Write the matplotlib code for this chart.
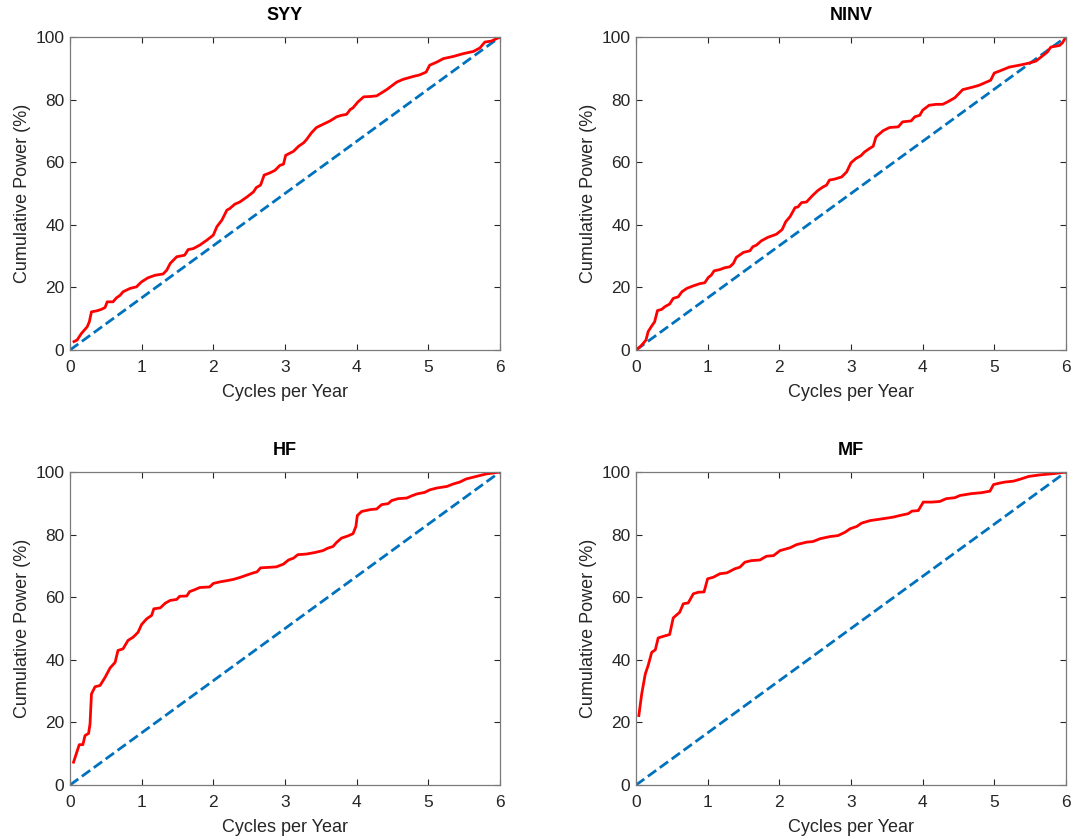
import matplotlib.pyplot as plt
import numpy as np

plt.rcParams['font.family'] = ['Liberation Sans', 'DejaVu Sans']

# SYY
syy_x = [0.056, 0.10, 0.16, 0.24, 0.27, 0.30, 0.37, 0.44, 0.49, 0.52, 0.60, 0.65, 0.70, 0.74, 0.84,
         0.93, 0.95, 1.00, 1.09, 1.19, 1.30, 1.35, 1.40, 1.49, 1.60, 1.65, 1.72, 1.81, 1.91, 2.00,
         2.05, 2.12, 2.19, 2.23, 2.30, 2.37, 2.47, 2.56, 2.60, 2.66, 2.71, 2.79, 2.86, 2.93, 2.98,
         3.01, 3.12, 3.19, 3.26, 3.30, 3.37, 3.44, 3.53, 3.63, 3.72, 3.79, 3.86, 3.91, 3.95, 4.02,
         4.10, 4.19, 4.28, 4.42, 4.56, 4.65, 4.79, 4.88, 4.97, 5.02, 5.12, 5.21, 5.35, 5.49, 5.63,
         5.72, 5.79, 5.88, 6.00]
syy_y = [2.7, 3.2, 5.3, 7.4, 9.0, 12.2, 12.5, 13.0, 13.6, 15.4, 15.4, 16.7, 17.5, 18.6, 19.7,
         20.2, 20.7, 21.8, 23.1, 23.9, 24.3, 25.5, 27.7, 29.8, 30.3, 32.1, 32.4, 33.5, 35.1, 36.7,
         39.4, 41.5, 44.7, 45.2, 46.6, 47.3, 48.9, 50.5, 51.9, 52.7, 55.9, 56.6, 57.4, 59.0, 59.4,
         62.2, 63.5, 65.1, 66.2, 67.2, 69.4, 71.1, 72.1, 73.2, 74.5, 75.0, 75.3, 76.8, 77.4, 79.3,
         80.9, 81.0, 81.2, 83.2, 85.6, 86.5, 87.4, 87.9, 88.8, 91.0, 92.0, 93.1, 93.8, 94.7, 95.4,
         96.5, 98.4, 98.7, 100.0]

# NINV
ninv_x = [0.01, 0.06, 0.10, 0.14, 0.17, 0.22, 0.26, 0.30, 0.36, 0.40, 0.47, 0.52, 0.59, 0.64, 0.71,
          0.80, 0.89, 0.96, 1.01, 1.05, 1.09, 1.17, 1.24, 1.31, 1.36, 1.40, 1.50, 1.59, 1.63, 1.68,
          1.75, 1.84, 1.96, 2.04, 2.09, 2.15, 2.22, 2.26, 2.31, 2.38, 2.47, 2.54, 2.61, 2.66, 2.70,
          2.77, 2.87, 2.94, 3.00, 3.07, 3.14, 3.19, 3.26, 3.31, 3.35, 3.45, 3.54, 3.66, 3.72, 3.84,
          3.89, 3.96, 4.00, 4.09, 4.19, 4.28, 4.35, 4.45, 4.56, 4.70, 4.79, 4.95, 5.00, 5.07, 5.21,
          5.35, 5.49, 5.58, 5.68, 5.74, 5.79, 5.91, 5.95, 6.00]
ninv_y = [0.2, 1.1, 2.1, 3.2, 5.9, 7.7, 9.0, 12.6, 13.0, 13.8, 14.7, 16.5, 17.0, 18.6, 19.7,
          20.5, 21.2, 21.5, 23.2, 23.9, 25.3, 25.7, 26.3, 26.6, 27.7, 29.6, 31.2, 31.7, 33.0, 33.5,
          34.9, 36.0, 37.0, 38.5, 41.0, 42.6, 45.5, 45.7, 47.1, 47.3, 49.5, 51.0, 52.1, 52.7, 54.3,
          54.6, 55.3, 56.9, 59.8, 61.2, 62.1, 63.3, 64.4, 65.1, 68.1, 70.1, 71.1, 71.3, 72.9, 73.2,
          74.5, 75.0, 76.6, 78.2, 78.5, 78.5, 79.3, 80.6, 83.2, 84.0, 84.6, 86.2, 88.5, 89.1, 90.4,
          91.0, 91.7, 92.3, 94.1, 95.2, 96.8, 97.3, 98.1, 100.0]

# HF
hf_x = [0.05, 0.08, 0.13, 0.18, 0.21, 0.26, 0.28, 0.30, 0.35, 0.42, 0.49, 0.56, 0.63, 0.67, 0.74,
        0.81, 0.88, 0.95, 1.00, 1.07, 1.14, 1.17, 1.26, 1.33, 1.40, 1.49, 1.53, 1.63, 1.67, 1.74,
        1.81, 1.95, 2.00, 2.09, 2.19, 2.28, 2.37, 2.47, 2.56, 2.61, 2.66, 2.74, 2.88, 2.98, 3.05,
        3.12, 3.18, 3.30, 3.42, 3.53, 3.60, 3.67, 3.72, 3.79, 3.88, 3.95, 3.99, 4.01, 4.07, 4.19,
        4.28, 4.35, 4.44, 4.49, 4.58, 4.70, 4.77, 4.84, 4.95, 5.02, 5.12, 5.26, 5.35, 5.44, 5.53,
        5.67, 5.81, 6.00]
hf_y = [7.3, 9.4, 12.9, 12.9, 15.8, 16.5, 19.5, 29.1, 31.4, 31.8, 34.4, 37.4, 39.2, 43.0, 43.5,
        46.2, 47.2, 48.8, 51.3, 53.1, 54.2, 56.3, 56.6, 58.1, 59.0, 59.3, 60.3, 60.4, 61.8, 62.4,
        63.1, 63.3, 64.4, 64.9, 65.3, 65.7, 66.3, 67.1, 67.8, 68.1, 69.4, 69.5, 69.7, 70.6, 71.9,
        72.5, 73.6, 73.8, 74.3, 74.9, 75.7, 76.2, 77.5, 78.9, 79.6, 80.3, 82.6, 86.1, 87.4, 88.0,
        88.2, 89.6, 89.9, 90.9, 91.5, 91.7, 92.4, 93.0, 93.5, 94.3, 94.9, 95.4, 96.2, 96.8, 97.8,
        98.6, 99.4, 100.0]

# MF
mf_x = [0.04, 0.08, 0.13, 0.17, 0.22, 0.27, 0.31, 0.38, 0.47, 0.52, 0.61, 0.66, 0.73, 0.80, 0.87,
        0.95, 1.00, 1.08, 1.17, 1.27, 1.38, 1.45, 1.52, 1.61, 1.73, 1.82, 1.92, 2.01, 2.15, 2.24,
        2.38, 2.47, 2.57, 2.71, 2.82, 2.92, 2.99, 3.08, 3.15, 3.27, 3.45, 3.59, 3.68, 3.80, 3.85,
        3.94, 4.01, 4.13, 4.24, 4.33, 4.45, 4.52, 4.68, 4.82, 4.94, 4.99, 5.08, 5.15, 5.27, 5.36,
        5.48, 5.64, 5.83, 6.00]
mf_y = [22.2, 29.1, 35.5, 38.2, 42.4, 43.2, 47.0, 47.5, 48.1, 53.4, 55.2, 57.9, 58.2, 61.1, 61.6,
        61.7, 65.9, 66.4, 67.5, 67.8, 69.1, 69.6, 71.2, 71.7, 71.9, 73.1, 73.3, 74.9, 75.8, 76.8,
        77.6, 77.8, 78.7, 79.4, 79.7, 80.8, 81.9, 82.6, 83.7, 84.5, 85.1, 85.6, 86.1, 86.7, 87.5,
        87.7, 90.4, 90.4, 90.6, 91.5, 91.8, 92.5, 93.1, 93.4, 93.9, 96.0, 96.5, 96.8, 97.1, 97.7,
        98.6, 99.1, 99.5, 100.0]

titles = ['SYY', 'NINV', 'HF', 'MF']
curves = [(syy_x, syy_y), (ninv_x, ninv_y), (hf_x, hf_y), (mf_x, mf_y)]
ref_x = [0, 6]
ref_y = [0, 100]

fig = plt.figure(figsize=(10.73, 8.38), dpi=100)
lefts = [0.0652, 0.5927, 0.0652, 0.5927]
bottoms = [0.5823, 0.5823, 0.0632, 0.0632]

for k in range(4):
    ax = fig.add_axes([lefts[k], bottoms[k], 0.4007, 0.3735])
    ax.plot(ref_x, ref_y, '--', color='#0072BD', lw=2)
    ax.plot(curves[k][0], curves[k][1], color='red', lw=2)
    ax.set_xlim(0, 6)
    ax.set_ylim(0, 100)
    ax.set_xticks(range(0, 7))
    ax.set_yticks(range(0, 101, 20))
    ax.tick_params(direction='in', top=True, right=True, length=4, width=0.8,
                   color='#262626', labelsize=12.5, labelcolor='#262626')
    ax.tick_params(axis='x', pad=7)
    ax.tick_params(axis='y', pad=4)
    for s in ax.spines.values():
        s.set_color('#7a7a7a')
        s.set_linewidth(0.9)
    ax.set_title(titles[k], fontsize=13, fontweight='bold', pad=12)
    ax.set_xlabel('Cycles per Year', fontsize=13, color='#262626', labelpad=7)
    ax.set_ylabel('Cumulative Power (%)', fontsize=13, color='#262626', labelpad=3)

fig.savefig('out.png', dpi=100)
